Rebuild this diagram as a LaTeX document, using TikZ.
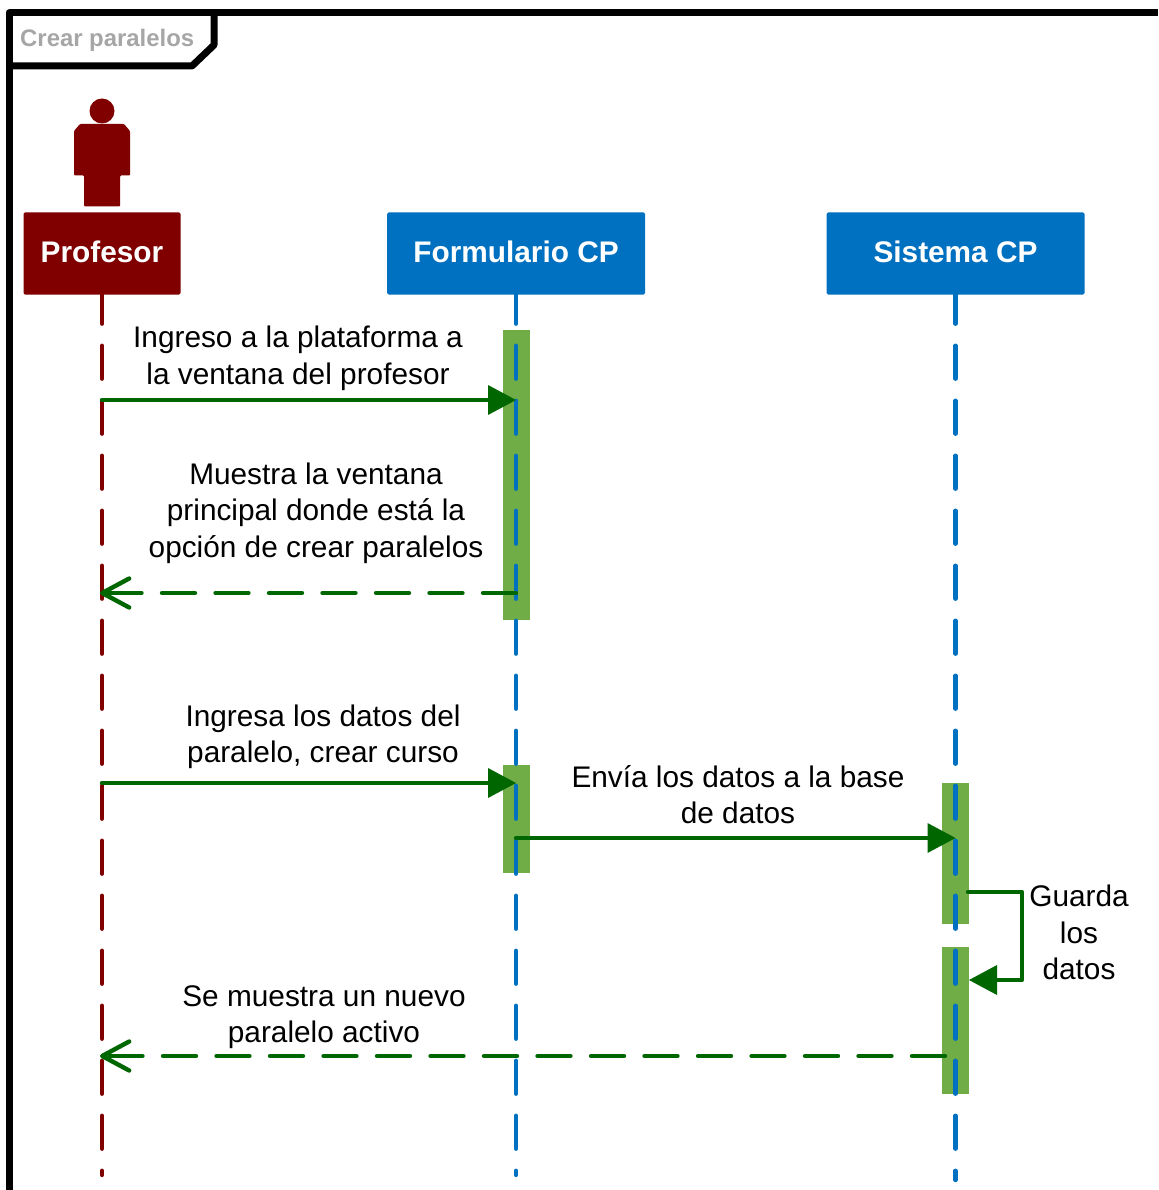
\documentclass[tikz,border=0pt]{standalone}
\usepackage{fontspec}
\setmainfont{Liberation Sans}
\usetikzlibrary{arrows.meta}
\definecolor{actorred}{HTML}{800000}
\definecolor{boxblue}{HTML}{0070C0}
\definecolor{barfill}{HTML}{70AD47}
\definecolor{msggreen}{HTML}{006600}
\definecolor{titlegrey}{HTML}{A6A6A6}
\tikzset{
  actorbox/.style={draw=none,fill=#1,rounded corners=1.5pt,minimum height=82pt,inner sep=0pt,text=white,
    font=\fontsize{29.8}{36}\selectfont\bfseries},
  lifeline/.style={draw=#1,line width=4.3pt,line cap=round,dash pattern=on 33pt off 22pt,dash phase=0pt},
  actbar/.style={draw=none,fill=barfill,minimum width=27pt,inner sep=0pt},
  msgcall/.style={draw=msggreen,line width=4.4pt,line cap=round,line join=round,-{Triangle[length=28pt,width=30pt,fill=msggreen,line width=0pt]}},
  msgreturn/.style={draw=msggreen,line width=4.4pt,line cap=round,dash pattern=on 33pt off 20.5pt,
    -{Straight Barb[length=27pt,width=29pt,line width=4.4pt,round,sep=0pt]}},
  msglabel/.style={align=center,inner sep=0pt,text=black,font=\fontsize{29.8}{36.5}\selectfont},
}
\begin{document}
\begin{tikzpicture}[x=1pt,y=-1pt]
\useasboundingbox[fill=white] (0,0) rectangle (1158,1190);
% frame
\draw[line width=7pt,line join=round] (9,1190) -- (9,13) -- (1158,13);
\draw[line width=7pt,line join=round] (9,66) -- (192,66) -- (214,45) -- (214,13);
\node[anchor=west,inner sep=0pt,text=titlegrey,font=\fontsize{23.9}{28}\selectfont\bfseries] (title) at (20,40.5) {Crear paralelos};
% actor figure
\fill[actorred] (102,111) circle (12.5);
\fill[actorred,rounded corners=1pt] (80,124) -- (124,124) -- (130,131) -- (130,175.5) -- (120,175.5) -- (120,206.5) -- (84,206.5) -- (84,175.5) -- (74,175.5) -- (74,131) -- cycle;
% header boxes
\node[actorbox=actorred,minimum width=157pt] (prof) at (102,253.5) {\raisebox{3pt}{Profesor}};
\node[actorbox=boxblue,minimum width=258pt] (form) at (516,253.5) {\raisebox{3pt}{Formulario CP}};
\node[actorbox=boxblue,minimum width=258pt] (sist) at (955.5,253.5) {\raisebox{3pt}{Sistema CP}};
% activation bars
\node[actbar,minimum height=290pt] (barA) at (516.5,475) {};
\node[actbar,minimum height=108pt] (barB) at (516.5,819) {};
\node[actbar,minimum height=141pt] (barC) at (955.5,853.5) {};
\node[actbar,minimum height=147pt] (barD) at (955.5,1020.5) {};
% lifeline ends
\coordinate (profEnd) at (102,1175);
\coordinate (formEnd) at (516,1175);
\coordinate (sistEnd) at (955.5,1180);
\draw[lifeline=actorred] (prof.south) ++(0,-4) -- (profEnd);
\draw[lifeline=boxblue] (form.south) ++(0,-4) -- (formEnd);
\draw[lifeline=boxblue] (sist.south) ++(0,-4) -- (sistEnd);
% message anchors
\coordinate (m1s) at (102,400);   \coordinate (m1e) at (516,400);
\coordinate (m2s) at (516,593);   \coordinate (m2e) at (100,593);
\coordinate (m3s) at (102,783);   \coordinate (m3e) at (516,783);
\coordinate (m4s) at (516,838);   \coordinate (m4e) at (955.5,838);
\coordinate (m5s) at (968,892);   \coordinate (m5a) at (1022,892);
\coordinate (m5b) at (1022,980);  \coordinate (m5e) at (969,980);
\coordinate (m6s) at (945,1056);  \coordinate (m6e) at (100,1056);
% messages
\draw[msgcall] (m1s) -- (m1e);
\draw[msgreturn] (m2s) -- (m2e);
\draw[msgcall] (m3s) -- (m3e);
\draw[msgcall] (m4s) -- (m4e);
\draw[msgcall] (m5s) -- (m5a) -- (m5b) -- (m5e);
\draw[msgreturn] (m6s) -- (m6e);
% labels
\node[msglabel] (l1) at (298,358.5) {Ingreso a la plataforma a\\la ventana del profesor};
\node[msglabel] (l2) at (316,513) {Muestra la ventana\\principal donde está la\\opción de crear paralelos};
\node[msglabel] (l3) at (323,737) {Ingresa los datos del\\paralelo, crear curso};
\node[msglabel] (l4) at (738,794.5) {Envía los datos a la base\\de datos};
\node[msglabel] (l5) at (1079,932.5) {Guarda\\los\\datos};
\node[msglabel] (l6) at (324,1017) {Se muestra un nuevo\\paralelo activo};
\end{tikzpicture}
\end{document}
